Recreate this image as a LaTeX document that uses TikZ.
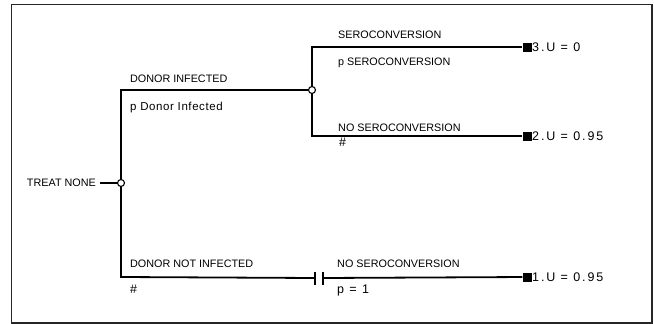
\documentclass[tikz,border=0pt]{standalone}
\usepackage{fontspec}
\setmainfont{Liberation Sans}
\newfontfamily\valfont[LetterSpace=15]{Liberation Sans}
\newfontfamily\probfont[LetterSpace=5]{Liberation Sans}
\usetikzlibrary{positioning}

\begin{document}
\begin{tikzpicture}[x=1pt, y=-1pt]
        \tikzstyle{branch} = [line width=1.8pt]
        \tikzstyle{chance} = [draw, circle, fill=white, line width=1.1pt, inner sep=0pt, minimum size=7pt]
        \tikzstyle{terminal} = [fill=black, inner sep=0pt, minimum size=9pt]
        \tikzstyle{bar} = [fill=black, inner sep=0pt, minimum width=1.8pt, minimum height=13pt]
        \tikzstyle{lbl} = [font=\fontsize{10.8}{12}\selectfont, inner sep=0pt, anchor=base west]
        \tikzstyle{val} = [font=\valfont\fontsize{12.5}{14}\selectfont, inner sep=0pt]

        \useasboundingbox (0,0) rectangle (654,324);
        \draw[gray!30!black, line width=1.4pt] (11.5,4.5) rectangle (652,323);

        % decision and chance nodes
        \node[lbl, anchor=east](treat) at (96,183){TREAT NONE};
        \node[chance](root) at (121,183){};
        \node[chance](infected) at (312,90){};
        \coordinate(c1) at (121,90);
        \coordinate(c2) at (121,277);
        \coordinate(c3) at (312,47);
        \coordinate(c4) at (312,136);
        \node[bar](bar1) at (315,278){};
        \node[bar](bar2) at (323,278){};

        % terminal nodes
        \node[terminal](t3) at (527,47){};
        \node[terminal](t2) at (527,136){};
        \node[terminal](t1) at (527,277){};
        \node[val, anchor=west](u3) at (532,47){3.U = 0};
        \node[val, anchor=west](u2) at (532,136){2.U = 0.95};
        \node[val, anchor=west](u1) at (532,277){1.U = 0.95};

        % branches
        \draw[branch, shorten <=4pt] (treat) -- (root);
        \draw[branch] (root) -- (c1) -- (infected);
        \draw[branch] (root) -- (c2) -- (bar1);
        \draw[branch] (bar2) -- (t1);
        \draw[branch] (infected) -- (c3) -- (t3);
        \draw[branch] (infected) -- (c4) -- (t2);

        % branch labels
        \node[lbl](l1) at (130,82){DONOR INFECTED};
        \node[font=\probfont\fontsize{11.5}{13}\selectfont, inner sep=0pt, anchor=base west](p1) at (130,110){p Donor Infected};
        \node[lbl](l2) at (130,267){DONOR NOT INFECTED};
        \node[val, anchor=base west](p2) at (130,293){\#};
        \node[lbl](l3) at (338,38){SEROCONVERSION};
        \node[lbl](p3) at (338,65){p SEROCONVERSION};
        \node[lbl](l4) at (338,131.5){NO SEROCONVERSION};
        \node[val, anchor=base west](p4) at (339,146){\#};
        \node[lbl](l5) at (337,267){NO SEROCONVERSION};
        \node[val, anchor=base west](p5) at (337,293){p = 1};
\end{tikzpicture}
\end{document}
